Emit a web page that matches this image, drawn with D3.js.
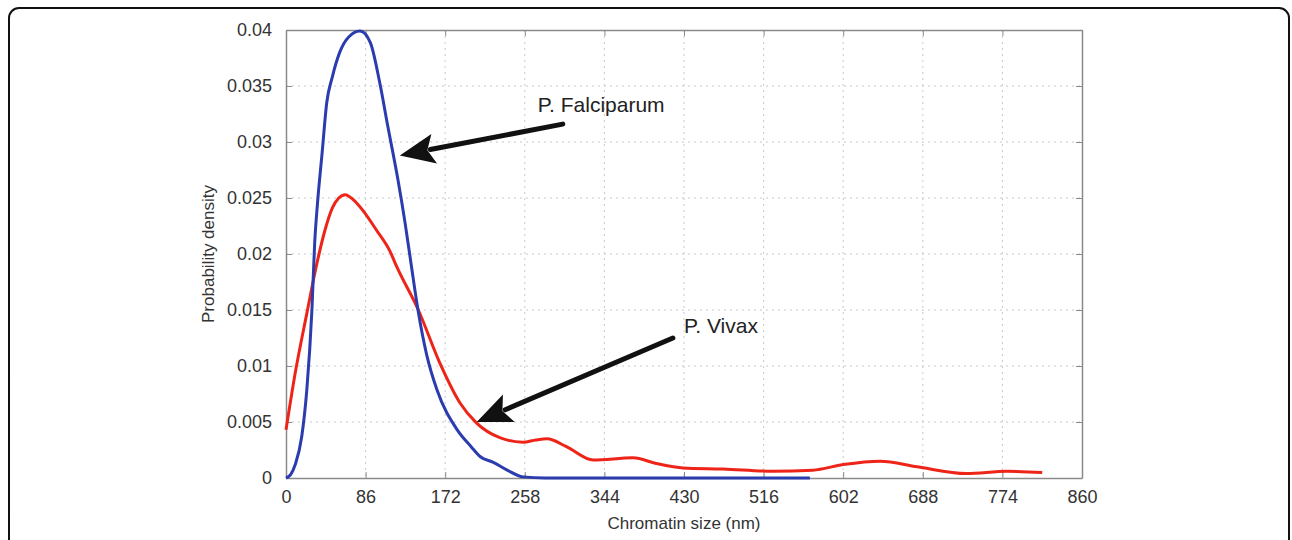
<!DOCTYPE html>
<html lang="en">
<head>
<meta charset="utf-8">
<title>Chromatin size density</title>
<style>
  body { margin: 0; background: #fff; }
  .grid line { stroke: #c8c8c8; stroke-width: 1px; stroke-dasharray: 2 4; }
  .axis text { font-family: "Liberation Sans", Arial, sans-serif; font-size: 18px; fill: #333; }
  .axis path, .axis line { stroke: #8a8a8a; }
</style>
<script src="https://cdn.jsdelivr.net/npm/d3@7"></script>
</head>
<body>
<script>
// tick labels
var xTicks = [0, 86, 172, 258, 344, 430, 516, 602, 688, 774, 860];
var yTicks = [0, 0.005, 0.01, 0.015, 0.02, 0.025, 0.03, 0.035, 0.04];
var yTickLabels = ["0", "0.005", "0.01", "0.015", "0.02", "0.025", "0.03", "0.035", "0.04"];

// P. Falciparum (blue)
var falcX = [0, 5, 10, 17, 22.5, 28, 31, 34, 39, 44, 50, 58, 68, 80, 91, 101.5, 110, 121, 128.6, 135, 142.6, 152, 163, 185, 200, 210, 224, 239, 256, 280, 400, 566];
var falcY = [0, 0.0003, 0.0012, 0.0037, 0.0079, 0.015, 0.021, 0.0245, 0.029, 0.0335, 0.0358, 0.038, 0.0394, 0.0399, 0.0389, 0.0352, 0.0314, 0.0266, 0.0228, 0.0192, 0.015, 0.011, 0.0079, 0.0043, 0.0028, 0.0019, 0.0014, 0.0007, 0.0001, 0, 0, 0];

// P. Vivax (red)
var vivX = [0, 10, 22.5, 33.5, 42, 50, 57, 64, 72, 83, 98, 112, 120, 143, 166, 188, 206, 231, 256, 270, 282, 303, 332, 375, 400, 429, 472, 526, 569, 602, 642, 682, 735, 779, 817];
var vivY = [0.0043, 0.0094, 0.0147, 0.0192, 0.0221, 0.0241, 0.0250, 0.0253, 0.0249, 0.0239, 0.0221, 0.0203, 0.0188, 0.015, 0.0103, 0.0067, 0.0049, 0.0036, 0.0032, 0.0034, 0.0035, 0.0028, 0.0016, 0.0018, 0.0013, 0.0009, 0.0008, 0.0006, 0.0007, 0.0012, 0.0015, 0.001, 0.0004, 0.0006, 0.0005];

// annotations: [label, textX, textY, tailX, tailY, tipX, tipY] in data units
var notes = [
  ["P. Falciparum", 272, 0.0327, 299, 0.0316, 123, 0.0288],
  ["P. Vivax", 430, 0.01295, 418, 0.0125, 206, 0.0050]
];

var W = 1292, H = 540;
var mLeft = 286, mRight = 1082, mTop = 30, mBottom = 478;

var svg = d3.select("body").append("svg").attr("width", W).attr("height", H);

// outer frame
svg.append("rect")
  .attr("x", 9).attr("y", 8).attr("width", 1280).attr("height", 560)
  .attr("rx", 10).attr("fill", "none").attr("stroke", "#111").attr("stroke-width", 2);

var x = d3.scaleLinear().domain([0, 860]).range([mLeft, mRight]);
var y = d3.scaleLinear().domain([0, 0.04]).range([mBottom, mTop]);

// grid
var grid = svg.append("g").attr("class", "grid");
grid.selectAll(".vx").data(xTicks.slice(1, -1)).enter().append("line")
  .attr("x1", function(d) { return x(d); }).attr("x2", function(d) { return x(d); })
  .attr("y1", mTop).attr("y2", mBottom);
grid.selectAll(".hy").data(yTicks.slice(1, -1)).enter().append("line")
  .attr("y1", function(d) { return y(d); }).attr("y2", function(d) { return y(d); })
  .attr("x1", mLeft).attr("x2", mRight);

// axes, ticks inside, mirrored on top / right
svg.append("g").attr("class", "axis")
  .attr("transform", "translate(0," + mBottom + ")")
  .call(d3.axisBottom(x).tickValues(xTicks).tickSizeInner(-6).tickSizeOuter(0).tickPadding(12).tickFormat(d3.format("d")));
svg.append("g").attr("class", "axis")
  .attr("transform", "translate(0," + mTop + ")")
  .call(d3.axisTop(x).tickValues(xTicks).tickSizeInner(-6).tickSizeOuter(0).tickFormat(""));
svg.append("g").attr("class", "axis")
  .attr("transform", "translate(" + mLeft + ",0)")
  .call(d3.axisLeft(y).tickValues(yTicks).tickSizeInner(-6).tickSizeOuter(0).tickPadding(14)
    .tickFormat(function(d, i) { return yTickLabels[i]; }));
svg.append("g").attr("class", "axis")
  .attr("transform", "translate(" + mRight + ",0)")
  .call(d3.axisRight(y).tickValues(yTicks).tickSizeInner(-6).tickSizeOuter(0).tickFormat(""));
svg.selectAll(".axis .domain").attr("stroke", "#8a8a8a").attr("stroke-width", 1.5);

// curves
var line = d3.line()
  .x(function(d) { return x(d[0]); })
  .y(function(d) { return y(d[1]); })
  .curve(d3.curveMonotoneX);

svg.append("path").datum(d3.zip(vivX, vivY))
  .attr("d", line).attr("fill", "none").attr("stroke", "#ee2418").attr("stroke-width", 3);
svg.append("path").datum(d3.zip(falcX, falcY))
  .attr("d", line).attr("fill", "none").attr("stroke", "#2a3cae").attr("stroke-width", 3);

// arrows
notes.forEach(function(n) {
  var tx = x(n[3]), ty = y(n[4]), hx = x(n[5]), hy = y(n[6]);
  var dx = tx - hx, dy = ty - hy, len = Math.sqrt(dx * dx + dy * dy);
  var ux = dx / len, uy = dy / len;
  var headL = 35, headW = 15;
  var bx = hx + ux * headL, by = hy + uy * headL;
  svg.append("line")
    .attr("x1", tx).attr("y1", ty).attr("x2", bx - ux * 4).attr("y2", by - uy * 4)
    .attr("stroke", "#111").attr("stroke-width", 5).attr("stroke-linecap", "round");
  var pts = [
    [hx, hy],
    [bx - uy * headW, by + ux * headW],
    [hx + ux * headL * 0.8, hy + uy * headL * 0.8],
    [bx + uy * headW, by - ux * headW]
  ];
  svg.append("polygon").attr("points", pts.map(function(p) { return p.join(","); }).join(" "))
    .attr("fill", "#111");
  svg.append("text")
    .attr("x", x(n[1])).attr("y", y(n[2]))
    .attr("font-family", "Liberation Sans, Arial, sans-serif")
    .attr("font-size", "21px").attr("fill", "#222")
    .text(n[0]);
});

// axis titles
svg.append("text")
  .attr("x", (mLeft + mRight) / 2).attr("y", 529)
  .attr("text-anchor", "middle")
  .attr("font-family", "Liberation Sans, Arial, sans-serif").attr("font-size", "17px").attr("fill", "#333")
  .text("Chromatin size (nm)");
svg.append("text")
  .attr("transform", "translate(214," + ((mTop + mBottom) / 2) + ") rotate(-90)")
  .attr("text-anchor", "middle")
  .attr("font-family", "Liberation Sans, Arial, sans-serif").attr("font-size", "17px").attr("fill", "#333")
  .text("Probability density");
</script>
</body>
</html>
